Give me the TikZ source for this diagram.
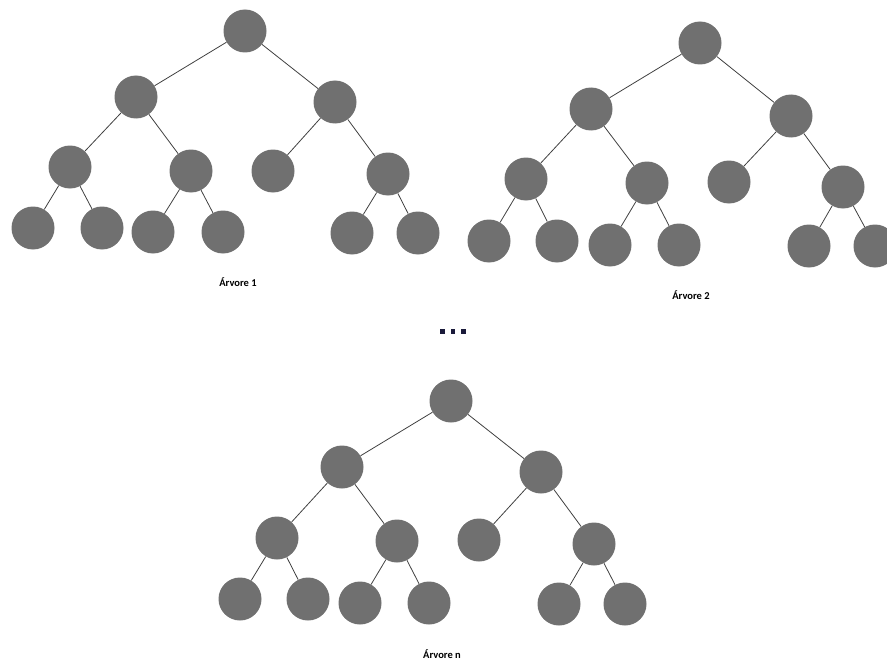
\documentclass[tikz,border=0pt]{standalone}
\usepackage{fontspec}
\setmainfont{Carlito}
\begin{document}
\begin{tikzpicture}[x=1pt,y=-1pt,
  nd/.style={circle,fill=nodegray,minimum size=43pt,inner sep=0pt},
  ed/.style={draw=edgegray,line width=0.8pt},
  lbl/.style={font=\bfseries\fontsize{10.5}{12}\selectfont,text=black}]
\definecolor{nodegray}{HTML}{707070}
\definecolor{edgegray}{HTML}{404040}
\definecolor{dotc}{HTML}{1A1A3A}
\useasboundingbox (0,0) rectangle (887,661);
% Tree 1
\node[nd] (a0) at (245,31) {};
\node[nd] (a1) at (136,97) {};
\node[nd] (a2) at (335,102) {};
\node[nd] (a3) at (70,167) {};
\node[nd] (a4) at (191,171) {};
\node[nd] (a5) at (273,171) {};
\node[nd] (a6) at (388,174) {};
\node[nd] (a7) at (33,228) {};
\node[nd] (a8) at (102,228) {};
\node[nd] (a9) at (153,232) {};
\node[nd] (a10) at (223,232) {};
\node[nd] (a11) at (352,233) {};
\node[nd] (a12) at (418,233) {};
\draw[ed] (a0)--(a1) (a0)--(a2) (a1)--(a3) (a1)--(a4) (a2)--(a5) (a2)--(a6)
  (a3)--(a7) (a3)--(a8) (a4)--(a9) (a4)--(a10) (a6)--(a11) (a6)--(a12);
\node[lbl] (la) at (238,282) {Árvore 1};
% Tree 2
\node[nd] (b0) at (700,43) {};
\node[nd] (b1) at (591,109) {};
\node[nd] (b2) at (791,116) {};
\node[nd] (b3) at (526,179) {};
\node[nd] (b4) at (647,183) {};
\node[nd] (b5) at (729,182) {};
\node[nd] (b6) at (843,187) {};
\node[nd] (b7) at (489,241) {};
\node[nd] (b8) at (557,241) {};
\node[nd] (b9) at (610,245) {};
\node[nd] (b10) at (679,245) {};
\node[nd] (b11) at (809,246) {};
\node[nd] (b12) at (875,246) {};
\draw[ed] (b0)--(b1) (b0)--(b2) (b1)--(b3) (b1)--(b4) (b2)--(b5) (b2)--(b6)
  (b3)--(b7) (b3)--(b8) (b4)--(b9) (b4)--(b10) (b6)--(b11) (b6)--(b12);
\node[lbl] (lb) at (691,295) {Árvore 2};
% dots
\fill[dotc] (440,329) rectangle (444.5,333.5);
\fill[dotc] (450.5,329) rectangle (455,333.5);
\fill[dotc] (461,329) rectangle (465.5,333.5);
% Tree n
\node[nd] (c0) at (451,401) {};
\node[nd] (c1) at (342,467) {};
\node[nd] (c2) at (541,472) {};
\node[nd] (c3) at (277,538) {};
\node[nd] (c4) at (397,541) {};
\node[nd] (c5) at (479,540) {};
\node[nd] (c6) at (594,544) {};
\node[nd] (c7) at (240,599) {};
\node[nd] (c8) at (308,599) {};
\node[nd] (c9) at (360,603) {};
\node[nd] (c10) at (429,603) {};
\node[nd] (c11) at (559,604) {};
\node[nd] (c12) at (625,604) {};
\draw[ed] (c0)--(c1) (c0)--(c2) (c1)--(c3) (c1)--(c4) (c2)--(c5) (c2)--(c6)
  (c3)--(c7) (c3)--(c8) (c4)--(c9) (c4)--(c10) (c6)--(c11) (c6)--(c12);
\node[lbl] (lc) at (442,654) {Árvore n};
\end{tikzpicture}
\end{document}
